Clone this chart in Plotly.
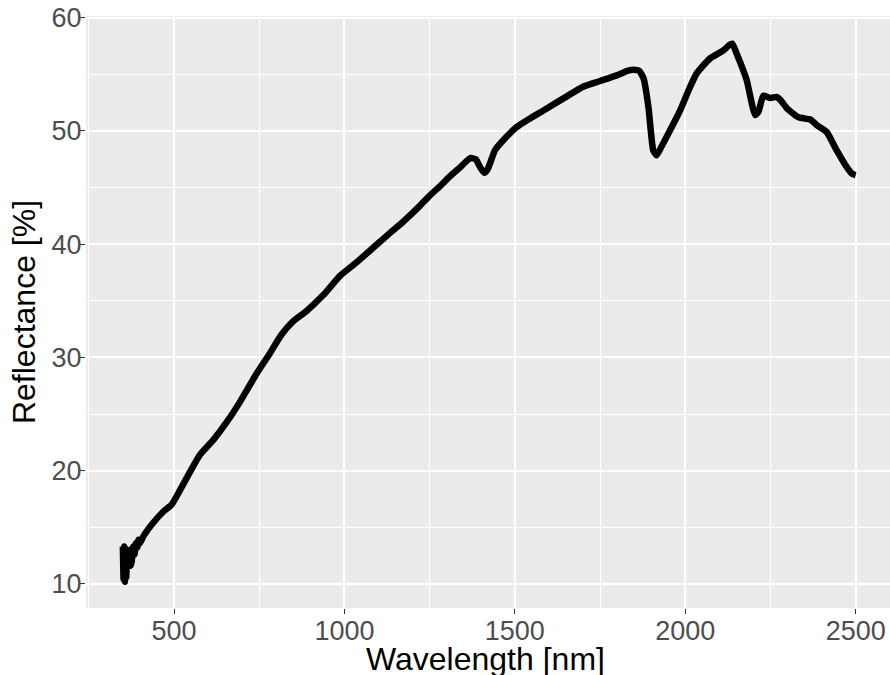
import plotly.graph_objects as go

wavelength = [350, 352, 354, 356, 358, 360, 362, 366, 370, 373, 376, 380, 384, 388, 392, 396, 400,
              410, 439, 469, 493, 518, 547, 576, 615, 655, 694, 743, 782, 815, 850, 889, 938,
              987, 1036, 1085, 1134, 1173, 1222, 1251, 1280, 1310, 1340, 1369, 1385, 1398, 1410,
              1420, 1442, 1470, 1506, 1545, 1584, 1650, 1700, 1750, 1799, 1830, 1848, 1865, 1878,
              1892, 1906, 1916, 1930, 1946, 1985, 2010, 2034, 2073, 2112, 2130, 2138, 2151, 2180,
              2205, 2215, 2229, 2249, 2268, 2280, 2298, 2332, 2367, 2386, 2415, 2444, 2474, 2490, 2500]
reflectance = [13.3, 10.4, 13.3, 10.2, 13.1, 10.6, 12.9, 11.6, 13.0, 11.6, 12.0, 13.3, 12.6, 13.6, 13.2, 13.9, 13.6,
               14.2, 15.4, 16.4, 17.0, 18.3, 19.9, 21.4, 22.7, 24.3, 26.1, 28.6, 30.4, 32.0, 33.2, 34.1, 35.5,
               37.2, 38.4, 39.7, 41.0, 42.0, 43.4, 44.3, 45.1, 46.0, 46.8, 47.6, 47.5, 46.8, 46.3,
               46.6, 48.3, 49.3, 50.35, 51.1, 51.8, 53.0, 53.9, 54.4, 54.9, 55.3, 55.4, 55.3, 54.6,
               52.1, 48.3, 47.85, 48.6, 49.5, 51.8, 53.6, 55.1, 56.4, 57.1, 57.6, 57.7, 56.8, 54.5,
               51.4, 51.7, 53.1, 52.9, 53.0, 52.7, 52.0, 51.2, 51.0, 50.5, 49.9, 48.3, 46.8, 46.2, 46.1]

x_ticks = [500, 1000, 1500, 2000, 2500]
y_ticks = [10, 20, 30, 40, 50, 60]
x_title = "Wavelength [nm]"
y_title = "Reflectance [%]"

fig = go.Figure()
fig.add_trace(go.Scatter(
    x=wavelength, y=reflectance, mode="lines",
    line=dict(color="black", width=6.5, shape="spline", smoothing=0.5),
    showlegend=False,
))

fig.update_layout(
    width=890, height=675,
    margin=dict(l=86, r=0, t=16, b=67),
    paper_bgcolor="white",
    plot_bgcolor="#EBEBEB",
    font=dict(family="Liberation Sans, Arial, sans-serif"),
    xaxis=dict(
        range=[241.8, 2600.7],
        tickvals=x_ticks, ticktext=[str(v) for v in x_ticks],
        showgrid=True, gridcolor="white", gridwidth=1.6,
        minor=dict(dtick=250, tick0=0, showgrid=True, gridcolor="white", gridwidth=0.8, ticks=""),
        zeroline=False, showline=False,
        ticks="outside", ticklen=5, tickwidth=1.1, tickcolor="#333333",
        tickfont=dict(size=27, color="#4D4D4D"),
        ticklabelstandoff=-6, ticklabeloverflow="allow",
        automargin=False,
    ),
    yaxis=dict(
        range=[7.88, 60.14],
        tickvals=y_ticks, ticktext=[str(v) for v in y_ticks],
        showgrid=True, gridcolor="white", gridwidth=1.6,
        minor=dict(dtick=5, tick0=0, showgrid=True, gridcolor="white", gridwidth=0.8, ticks=""),
        zeroline=False, showline=False,
        ticks="outside", ticklen=5, tickwidth=1.1, tickcolor="#333333",
        tickfont=dict(size=27, color="#4D4D4D"),
        ticklabelstandoff=-7, ticklabeloverflow="allow",
        title=dict(text=y_title, font=dict(size=32, color="black"), standoff=6),
        automargin=False,
    ),
    annotations=[dict(
        text=x_title, xref="paper", yref="paper", x=0.4963, y=-0.0855,
        xanchor="center", yanchor="middle", showarrow=False,
        font=dict(size=32, color="black"),
    )],
)

fig.write_html(
    "out.html",
    config={"displayModeBar": False},
    post_script="document.body.style.margin='0';document.body.style.overflow='hidden';",
)
